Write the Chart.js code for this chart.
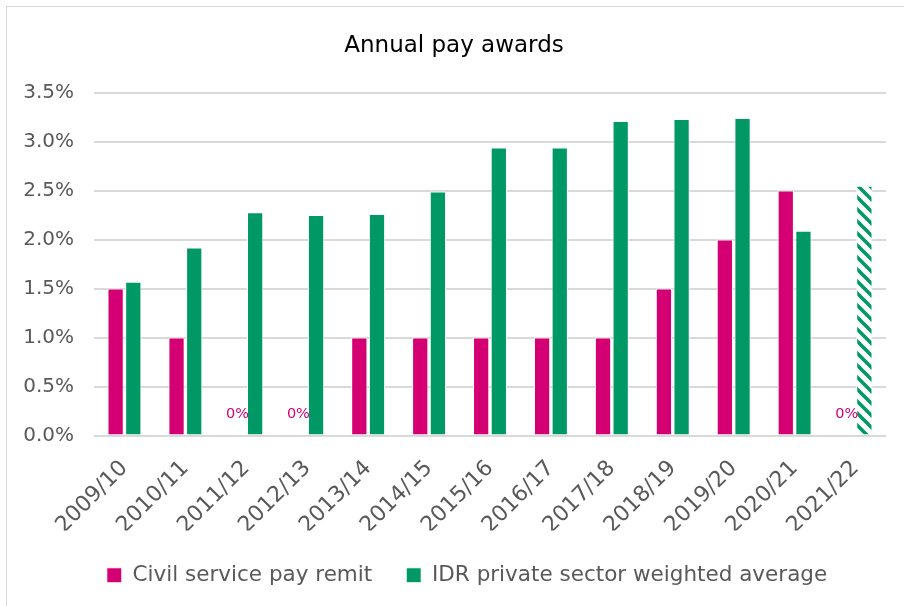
<!DOCTYPE html>
<html>
<head>
<meta charset="utf-8">
<script src="https://cdn.jsdelivr.net/npm/chart.js@4"></script>
<style>
  html, body { margin: 0; padding: 0; background: #fff; }
  #wrap { position: relative; width: 904px; height: 606px; }
  #frame { position: absolute; left: 6px; top: 6px; width: 904px; height: 606px; border: 1px solid #d9d9d9; box-sizing: border-box; }
  canvas { position: absolute; left: 0; top: 0; }
</style>
</head>
<body>
<div id="wrap">
  <div id="frame"></div>
  <canvas id="chart" width="904" height="606"></canvas>
</div>
<script>
const years = ["2009/10", "2010/11", "2011/12", "2012/13", "2013/14", "2014/15", "2015/16",
    "2016/17", "2017/18", "2018/19", "2019/20", "2020/21", "2021/22"];
const civilService = [1.5, 1.0, 0, 0, 1.0, 1.0, 1.0, 1.0, 1.0, 1.5, 2.0, 2.5, 0];
const idrPrivate = [1.57, 1.92, 2.28, 2.25, 2.26, 2.49, 2.94, 2.94, 3.21, 3.23, 3.24, 2.09, 2.55];
const yTicks = [0, 0.5, 1.0, 1.5, 2.0, 2.5, 3.0, 3.5];
const projectedIndex = 12;

const pink = "#d40073";
const green = "#009966";
const grey = "#595959";
const fontFamily = "'DejaVu Sans', sans-serif";

const makeHatch = () => {
    const c = document.createElement("canvas");
    c.width = 12;
    c.height = 12;
    const ctx = c.getContext("2d");
    ctx.fillStyle = "#fff";
    ctx.fillRect(0, 0, 12, 12);
    ctx.strokeStyle = green;
    ctx.lineWidth = 3.6;
    ctx.beginPath();
    ctx.moveTo(-3, -3);
    ctx.lineTo(15, 15);
    ctx.moveTo(-9, 3);
    ctx.lineTo(3, 15);
    ctx.moveTo(9, -3);
    ctx.lineTo(15, 3);
    ctx.stroke();
    return ctx.createPattern(c, "repeat");
};

const hatch = makeHatch();

const zeroLabels = {
    id: "zeroLabels",
    afterDatasetsDraw(chart) {
        const meta = chart.getDatasetMeta(0);
        const ctx = chart.ctx;
        const yScale = chart.scales.y;
        ctx.save();
        ctx.fillStyle = pink;
        ctx.font = "14.5px " + fontFamily;
        ctx.textAlign = "center";
        ctx.textBaseline = "middle";
        civilService.forEach((v, i) => {
            if (v === 0) {
                ctx.fillText("0%", meta.data[i].x, yScale.getPixelForValue(0) - 21);
            }
        });
        ctx.restore();
    }
};

// the legend sits a little right of centre in the original
const legendShift = {
    id: "legendShift",
    afterLayout(chart) {
        if (chart.legend) {
            chart.legend.left += 13;
            chart.legend.right += 13;
        }
    }
};

new Chart(document.getElementById("chart"), {
    type: "bar",
    data: {
        labels: years,
        datasets: [{
            label: "Civil service pay remit",
            data: civilService,
            backgroundColor: pink,
            borderColor: "#fff",
            borderWidth: 1,
            categoryPercentage: 0.58,
            barPercentage: 0.92
        }, {
            label: "IDR private sector weighted average",
            data: idrPrivate,
            backgroundColor: idrPrivate.map((v, i) => i === projectedIndex ? hatch : green),
            borderColor: "#fff",
            borderWidth: 1,
            categoryPercentage: 0.58,
            barPercentage: 0.92
        }]
    },
    options: {
        responsive: false,
        animation: false,
        layout: {
            padding: { left: 22, right: 18, top: 32, bottom: 10 }
        },
        scales: {
            x: {
                grid: { display: false },
                border: { display: false },
                afterFit(axis) {
                    axis.height = 95;
                },
                ticks: {
                    color: grey,
                    font: { size: 22, family: fontFamily },
                    minRotation: 45,
                    maxRotation: 45,
                    padding: 12
                }
            },
            y: {
                min: 0,
                max: 3.5,
                afterBuildTicks(axis) {
                    axis.ticks = yTicks.map(v => ({ value: v }));
                },
                afterFit(axis) {
                    axis.width = 72;
                },
                grid: { color: "#d9d9d9", lineWidth: 2, drawTicks: false },
                border: { display: false },
                ticks: {
                    color: grey,
                    padding: 20,
                    font: { size: 20, family: fontFamily },
                    callback: v => v.toFixed(1) + "%"
                }
            }
        },
        plugins: {
            title: {
                display: true,
                text: "Annual pay awards",
                color: "#000",
                font: { size: 23, weight: "normal", family: fontFamily },
                padding: { top: 0, bottom: 33 }
            },
            legend: {
                position: "bottom",
                labels: {
                    color: grey,
                    boxWidth: 15,
                    boxHeight: 15,
                    padding: 34,
                    font: { size: 21.5, family: fontFamily },
                    generateLabels: chart => chart.data.datasets.map((ds, i) => ({
                        text: ds.label,
                        fillStyle: i === 0 ? pink : green,
                        strokeStyle: "#fff",
                        lineWidth: 1,
                        fontColor: grey,
                        datasetIndex: i
                    }))
                }
            },
            tooltip: { enabled: false }
        }
    },
    plugins: [zeroLabels, legendShift]
});
</script>
</body>
</html>
